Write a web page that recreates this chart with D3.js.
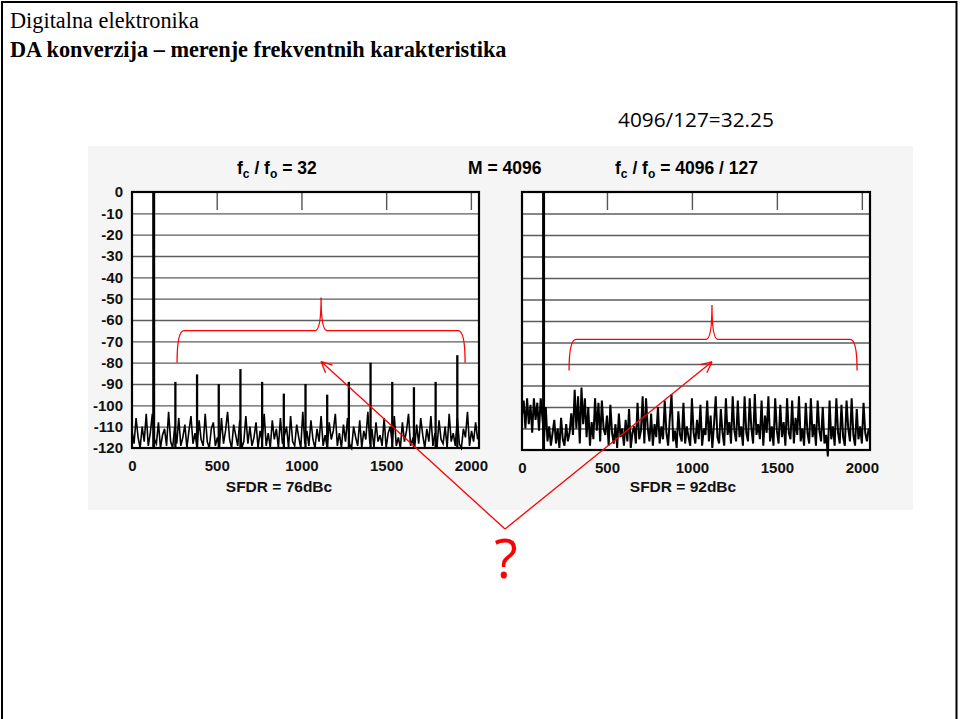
<!DOCTYPE html>
<html>
<head>
<meta charset="utf-8">
<script src="https://cdn.jsdelivr.net/npm/d3@7"></script>
<style>
body { margin: 0; background: white; }
</style>
</head>
<body>
<script>
const width = 961;
const height = 719;

const freqTicks = [0, 500, 1000, 1500, 2000];
const topTicks = [500, 1000, 1500, 2000];
const dbLabels = [0, -10, -20, -30, -40, -50, -60, -70, -80, -90, -100, -110, -120];
const gridLevels = [-10, -20, -30, -40, -50, -60, -70, -80, -90, -100, -110];

// left panel: fc/fo = 32, fundamental at bin 128 and its harmonics
const leftSpikeBins = [128, 256, 384, 512, 640, 768, 896, 1024, 1152, 1280, 1408, 1536, 1664, 1792, 1920];
const leftSpikeLevels = [0, -89, -85.5, -90, -83, -89, -94.5, -90, -95, -89, -80, -89, -91.5, -89, -76.5];
const leftNoiseStep = 12;
const leftNoise = [
  -112, -118, -106, -115, -120, -110, -117, -104, -119, -113,
  -104, -116, -118, -108, -120, -114, -111, -119, -103, -117,
  -120, -110, -118, -106, -119, -115, -109, -120, -112, -105,
  -118, -113, -120, -107, -116, -119, -104, -117, -120, -111,
  -108, -119, -115, -120, -106, -118, -112, -103, -116, -120,
  -109, -114, -119, -107, -120, -117, -105, -118, -110, -119,
  -115, -108, -120, -112, -117, -104, -119, -113, -120, -107,
  -116, -111, -120, -106, -118, -114, -110, -120, -105, -117,
  -119, -109, -115, -120, -103, -118, -112, -119, -107, -116,
  -120, -111, -117, -105, -119, -114, -120, -108, -116, -112,
  -104, -119, -113, -120, -109, -117, -106, -118, -120, -110,
  -115, -119, -107, -120, -112, -116, -103, -118, -111, -120,
  -108, -117, -114, -119, -106, -120, -113, -110, -118, -105,
  -119, -115, -120, -108, -117, -112, -104, -119, -116, -120,
  -109, -118, -106, -114, -120, -111, -117, -105, -119, -113,
  -120, -107, -116, -118, -110, -120, -104, -117, -113, -119,
  -106, -118, -120, -111, -115, -103, -119, -112, -117, -108, -116
];

// right panel: fc/fo = 4096/127, fundamental at bin 127
const rightSpikeBins = [127];
const rightSpikeLevels = [0];
const rightNoiseStep = 10;
const rightNoise = [
  -104, -97, -110, -96, -108, -99, -112, -96, -106, -98,
  -111, -96, -105, -114, -100, -116, -109, -118, -112, -106,
  -117, -110, -119, -105, -115, -118, -108, -116, -112, -103,
  -113, -92, -110, -95, -117, -91, -108, -96, -114, -100,
  -118, -107, -115, -96, -111, -98, -116, -97, -110, -113,
  -104, -118, -99, -112, -117, -108, -119, -103, -114, -110,
  -118, -106, -116, -101, -119, -112, -109, -117, -98, -115,
  -111, -95, -117, -96, -110, -116, -103, -118, -108, -114,
  -100, -117, -109, -115, -97, -112, -118, -105, -94, -116,
  -111, -119, -102, -113, -116, -98, -117, -109, -114, -118,
  -96, -112, -117, -106, -115, -99, -118, -110, -113, -97,
  -116, -104, -119, -108, -95, -114, -117, -101, -112, -118,
  -96, -113, -107, -117, -95, -111, -116, -97, -114, -109,
  -118, -95, -112, -116, -96, -110, -117, -94, -113, -108,
  -115, -97, -118, -104, -112, -95, -116, -109, -118, -96,
  -111, -117, -99, -114, -107, -118, -96, -112, -115, -97,
  -117, -105, -113, -95, -116, -110, -118, -98, -112, -117,
  -96, -114, -108, -118, -97, -111, -116, -100, -117, -113,
  -123, -97, -115, -109, -118, -96, -112, -117, -99, -114,
  -118, -97, -110, -116, -96, -113, -118, -101, -115, -109,
  -117, -98, -112, -116, -110
];

// red annotations, in panel units (bin, dB)
const leftBrace = { from: 266, to: 1966, mid: 1116, end: -80, bar: -65, tip: -49.5 };
const rightBrace = { from: 277, to: 1972, mid: 1118, end: -83, bar: -68.5, tip: -52.5 };
const leftArrowTip = [1116, -79.5];
const rightArrowTip = [1118, -79];

const svg = d3
  .select("body")
  .append("svg")
  .attr("width", width)
  .attr("height", height);

svg.append("rect")
  .attr("width", width)
  .attr("height", height)
  .attr("fill", "white");

svg.append("rect")
  .attr("x", 2)
  .attr("y", 2)
  .attr("width", 954.5)
  .attr("height", 800)
  .attr("fill", "none")
  .attr("stroke", "black")
  .attr("stroke-width", 2);

svg.append("text")
  .attr("x", 10)
  .attr("y", 28)
  .attr("font-family", "'Liberation Serif', 'Times New Roman', serif")
  .attr("font-size", 22.3)
  .text("Digitalna elektronika");

svg.append("text")
  .attr("x", 10)
  .attr("y", 57)
  .attr("font-family", "'Liberation Serif', 'Times New Roman', serif")
  .attr("font-size", 22.3)
  .attr("font-weight", "bold")
  .text("DA konverzija – merenje frekventnih karakteristika");

svg.append("text")
  .attr("x", 618)
  .attr("y", 127)
  .attr("font-family", "'Open Sans', sans-serif")
  .attr("font-size", 20.8)
  .text("4096/127=32.25");

// faint grey background of the scanned figure
svg.append("rect")
  .attr("x", 88)
  .attr("y", 146)
  .attr("width", 825)
  .attr("height", 364)
  .attr("fill", "#f5f5f5");

const chartFont = "'Liberation Sans', Arial, sans-serif";

function titleText(x, sub1, sub2, rest) {
  const t = svg.append("text")
    .attr("x", x)
    .attr("y", 174)
    .attr("font-family", chartFont)
    .attr("font-weight", "bold")
    .attr("font-size", 17.5);
  t.append("tspan").text("f");
  t.append("tspan").attr("font-size", 12).attr("dy", 4).text(sub1);
  t.append("tspan").attr("dy", -4).text(" / f");
  t.append("tspan").attr("font-size", 12).attr("dy", 4).text(sub2);
  t.append("tspan").attr("dy", -4).text(rest);
}

titleText(237, "c", "o", " = 32");
titleText(615, "c", "o", " = 4096 / 127");
svg.append("text")
  .attr("x", 468)
  .attr("y", 174)
  .attr("font-family", chartFont)
  .attr("font-weight", "bold")
  .attr("font-size", 17.5)
  .text("M = 4096");

function drawPanel(p) {
  const x = d3.scaleLinear().domain([0, 2048]).range([p.left, p.right]);
  const y = d3.scaleLinear().domain([-120, 0]).range([p.bottom, p.top]);
  const g = svg.append("g");

  g.append("rect")
    .attr("x", p.left)
    .attr("y", p.top)
    .attr("width", p.right - p.left)
    .attr("height", p.bottom - p.top)
    .attr("fill", "white");

  g.append("g")
    .attr("transform", `translate(${p.left},0)`)
    .call(d3.axisLeft(y).tickValues(gridLevels).tickSize(-(p.right - p.left)).tickFormat(""))
    .call(a => a.select(".domain").remove())
    .selectAll("line")
    .attr("stroke", "#5c5c5c")
    .attr("stroke-width", 1.3);

  g.append("g")
    .attr("transform", `translate(0,${p.top})`)
    .call(d3.axisTop(x).tickValues(topTicks).tickSize(-18).tickFormat(""))
    .call(a => a.select(".domain").remove())
    .selectAll("line")
    .attr("stroke", "#555")
    .attr("stroke-width", 1.4);

  const line = d3.line()
    .x((d, i) => x(i * p.step))
    .y(d => y(d));

  g.append("path")
    .datum(p.noise)
    .attr("d", line)
    .attr("fill", "none")
    .attr("stroke", "black")
    .attr("stroke-width", p.noiseWidth);

  const spikes = p.spikeBins.map((b, i) => ({ bin: b, level: p.spikeLevels[i] }));
  g.selectAll(".spike")
    .data(spikes)
    .enter()
    .append("line")
    .attr("class", "spike")
    .attr("x1", d => x(d.bin))
    .attr("x2", d => x(d.bin))
    .attr("y1", y(-120))
    .attr("y2", d => y(d.level))
    .attr("stroke", "black")
    .attr("stroke-width", d => (d.level === 0 ? 3 : 2.3));

  g.append("rect")
    .attr("x", p.left)
    .attr("y", p.top)
    .attr("width", p.right - p.left)
    .attr("height", p.bottom - p.top)
    .attr("fill", "none")
    .attr("stroke", "black")
    .attr("stroke-width", 2.2);

  g.append("g")
    .attr("transform", `translate(0,${p.bottom})`)
    .call(d3.axisBottom(x).tickValues(freqTicks).tickSize(0).tickPadding(12).tickFormat(d => String(d)))
    .call(a => a.select(".domain").remove())
    .selectAll("text")
    .attr("font-family", chartFont)
    .attr("font-weight", "bold")
    .attr("font-size", 15)
    .attr("fill", "#111");

  if (p.yLabels) {
    g.append("g")
      .attr("transform", `translate(${p.left},0)`)
      .call(d3.axisLeft(y).tickValues(dbLabels).tickSize(0).tickPadding(9).tickFormat(d => String(d)))
      .call(a => a.select(".domain").remove())
      .selectAll("text")
      .attr("font-family", chartFont)
      .attr("font-weight", "bold")
      .attr("font-size", 15)
      .attr("fill", "#111");
  }

  svg.append("text")
    .attr("x", p.sfdrX)
    .attr("y", 492)
    .attr("text-anchor", "middle")
    .attr("font-family", chartFont)
    .attr("font-weight", "bold")
    .attr("font-size", 15.5)
    .attr("fill", "#111")
    .text(p.sfdr);

  const b = p.brace;
  const path = d3.path();
  path.moveTo(x(b.from), y(b.end));
  path.quadraticCurveTo(x(b.from), y(b.bar), x(b.from) + 7, y(b.bar));
  path.lineTo(x(b.mid) - 6, y(b.bar));
  path.quadraticCurveTo(x(b.mid), y(b.bar), x(b.mid), y(b.tip));
  path.quadraticCurveTo(x(b.mid), y(b.bar), x(b.mid) + 6, y(b.bar));
  path.lineTo(x(b.to) - 7, y(b.bar));
  path.quadraticCurveTo(x(b.to), y(b.bar), x(b.to), y(b.end));
  svg.append("path")
    .attr("d", path.toString())
    .attr("fill", "none")
    .attr("stroke", "red")
    .attr("stroke-width", 1.3);

  return [x(p.arrowTip[0]), y(p.arrowTip[1])];
}

const leftTip = drawPanel({
  left: 132, right: 479, top: 192, bottom: 448,
  noise: leftNoise, step: leftNoiseStep, noiseWidth: 1.6,
  spikeBins: leftSpikeBins, spikeLevels: leftSpikeLevels,
  yLabels: true, sfdr: "SFDR = 76dBc", sfdrX: 279,
  brace: leftBrace, arrowTip: leftArrowTip
});

const rightTip = drawPanel({
  left: 522, right: 870, top: 192, bottom: 450,
  noise: rightNoise, step: rightNoiseStep, noiseWidth: 2,
  spikeBins: rightSpikeBins, spikeLevels: rightSpikeLevels,
  yLabels: false, sfdr: "SFDR = 92dBc", sfdrX: 683,
  brace: rightBrace, arrowTip: rightArrowTip
});

const vertex = [505, 529];
[leftTip, rightTip].forEach(tip => {
  svg.append("line")
    .attr("x1", vertex[0])
    .attr("y1", vertex[1])
    .attr("x2", tip[0])
    .attr("y2", tip[1])
    .attr("stroke", "red")
    .attr("stroke-width", 1.3);
  const ang = Math.atan2(vertex[1] - tip[1], vertex[0] - tip[0]);
  [-0.45, 0.45].forEach(da => {
    svg.append("line")
      .attr("x1", tip[0])
      .attr("y1", tip[1])
      .attr("x2", tip[0] + 12 * Math.cos(ang + da))
      .attr("y2", tip[1] + 12 * Math.sin(ang + da))
      .attr("stroke", "red")
      .attr("stroke-width", 1.3);
  });
});

svg.append("text")
  .attr("x", 506)
  .attr("y", 578)
  .attr("text-anchor", "middle")
  .attr("font-family", "'Open Sans', sans-serif")
  .attr("font-size", 54)
  .attr("fill", "red")
  .text("?");
</script>
</body>
</html>
